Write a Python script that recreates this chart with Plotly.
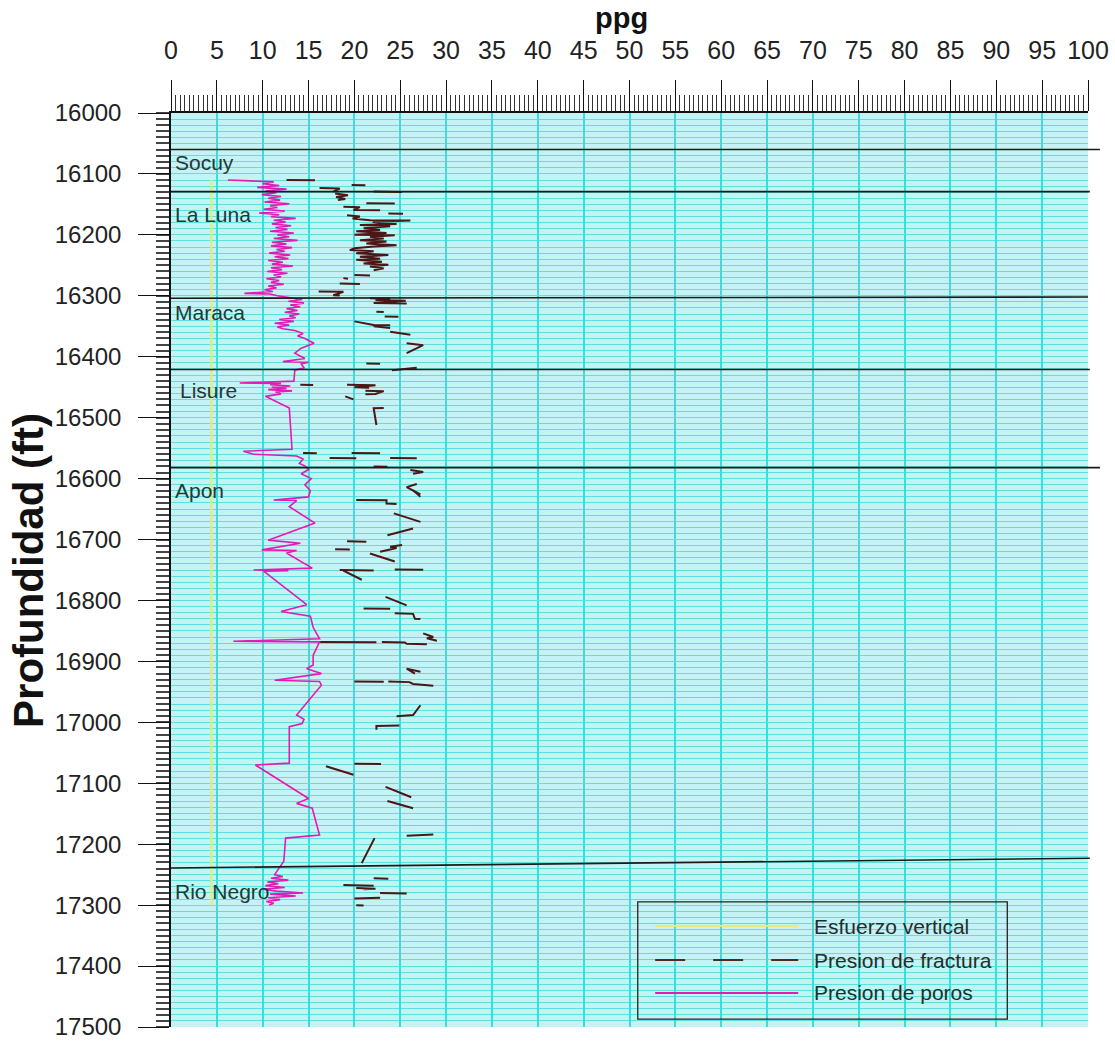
import plotly.graph_objects as go

# ---------------- data ----------------
# Esfuerzo vertical (ppg vs depth ft)
vert_depth = [16110, 17300]
vert_ppg = [4.4, 4.4]

# Presion de poros
pore_depth = [
    16110, 16111, 16113, 16116, 16119, 16122, 16125, 16128, 16131, 16134, 16137, 16140,
    16143, 16146, 16149, 16152, 16155, 16158, 16161, 16164, 16167, 16170, 16173, 16176,
    16179, 16182, 16185, 16188, 16191, 16194, 16197, 16200, 16203, 16206, 16209, 16212,
    16215, 16218, 16221, 16224, 16227, 16230, 16233, 16236, 16239, 16242, 16245, 16248,
    16251, 16254, 16257, 16260, 16263, 16266, 16269, 16272, 16275, 16278, 16281, 16284,
    16287, 16290, 16293, 16296, 16297, 16300,
    16303, 16306, 16309, 16312, 16315, 16318, 16321, 16324, 16327, 16330, 16333, 16336,
    16339, 16342, 16345, 16348, 16351, 16354, 16357, 16362, 16366, 16370, 16378, 16386,
    16394, 16403, 16408, 16409, 16412, 16418, 16422, 16440,
    16443, 16444, 16446, 16448, 16450, 16452, 16454, 16456, 16458, 16461, 16465, 16484,
    16552, 16555, 16560, 16563, 16568, 16575, 16579,
    16585, 16592, 16600, 16610, 16620, 16630, 16635, 16636, 16646, 16673, 16701, 16706,
    16717, 16718, 16722, 16747, 16750, 16751, 16752, 16807, 16818, 16826, 16844, 16863,
    16867, 16868, 16890, 16906, 16912, 16920, 16931, 16933, 16939, 16988, 16995, 17002,
    17007, 17067, 17070, 17125, 17133, 17141, 17185, 17190, 17228, 17250,
    17253, 17256, 17259, 17262, 17265, 17268, 17271, 17274, 17277, 17280, 17282, 17285,
    17288, 17291, 17294, 17297, 17300,
]
pore_ppg = [
    6.2, 9.0, 11.2, 10.0, 11.8, 9.4, 12.6, 10.3, 11.5, 9.9, 12.0, 10.6,
    11.9, 10.2, 12.9, 10.8, 11.6, 10.1, 12.4, 9.6, 11.8, 10.9, 13.6, 11.2,
    12.5, 11.0, 13.1, 11.4, 12.7, 10.8, 13.4, 11.6, 12.9, 11.2, 13.8, 11.0,
    12.6, 10.9, 13.2, 11.5, 12.4, 10.7, 13.0, 11.3, 12.8, 10.6, 12.2, 11.0,
    13.3, 10.9, 12.1, 10.5, 12.7, 11.2, 12.0, 10.4, 11.8, 10.9, 12.3, 10.6,
    11.5, 10.2, 11.1, 8.0, 10.8, 11.6,
    13.2, 14.3, 12.8, 14.5, 13.0, 14.1, 12.6, 13.8, 12.4, 14.0, 12.9, 13.6,
    11.8, 13.4, 11.3, 12.9, 11.6, 12.2, 13.5, 14.4, 13.8, 14.6, 15.6, 14.2,
    13.5, 14.6, 12.2, 15.0, 14.2, 14.5, 13.5, 13.4,
    7.5, 12.0, 10.8, 13.0, 11.0, 12.6, 10.6, 13.2, 11.4, 12.0, 10.3, 12.9,
    13.2, 7.9, 9.0, 13.7, 14.4, 14.0, 14.6,
    15.0, 14.2, 15.3, 14.6, 15.2, 15.0, 11.2, 13.7, 12.9, 15.7, 10.6, 14.1,
    9.9, 13.7, 12.6, 15.4, 9.0, 12.8, 10.1, 14.8, 12.0, 15.2, 15.5, 16.2,
    6.8, 16.2, 15.5, 15.5, 14.8, 16.4, 11.3, 16.2, 16.4, 13.7, 14.5, 14.3,
    12.9, 12.9, 9.2, 15.0, 13.7, 15.4, 16.2, 12.5, 12.3, 11.3,
    12.2, 10.9, 12.8, 10.5, 11.7, 10.3, 12.4, 10.0, 11.5, 14.4, 10.8, 13.6,
    10.6, 11.9, 10.4, 11.2, 10.7,
]

# Presion de fractura (broken trace, None = gap)
frac_depth = [
    16110, 16110.5, None, 16118, 16118.5, None, 16123, 16124, 16129, None, 16129, 16129.5, None,
    16132, 16135, 16138, 16141, 16143, None, 16148, 16148.5, None,
    16154, 16154.5, 16159, 16159.5, None, 16165, 16165.5, None,
    16168, 16170, 16173, 16176, 16176.5, 16179, 16182, 16184, 16186, 16189, 16192, 16194,
    16197, 16200, 16200.5, 16203, 16206, 16209, 16211, 16214, 16217, 16219, 16222, 16225,
    16227, 16230, 16233, 16236, 16239, 16241, 16244, 16247, 16249, 16252, 16255, 16258, None,
    16266, 16266.5, None, 16271, 16272, None, 16280, 16280.5, None,
    16293, 16293.5, 16299, 16299.5, None,
    16304, 16305, 16307, 16308, 16312, 16312.5, None, 16326, 16326.5, None, 16334, 16334.5, None,
    16342, 16348, 16348.5, None, 16350, 16353, None, 16359, 16364, None,
    16378, 16381, 16394, None, 16411, 16411.5, None, 16422, 16418, None,
    16446, 16446.5, None, 16446, 16447, 16450, 16451, None,
    16456, 16456.5, 16461, 16461.5, None, 16465, 16470, None,
    16484, 16484.5, 16512, None, 16558, 16558.5, None, 16558, 16558.5, None,
    16566, 16566.5, None, 16566, 16566.5, None, 16580, 16580.5, None,
    16586, 16589, 16592, None, 16609, 16614, 16626, None,
    16619, 16630, None, 16635, 16635.5, 16641, 16641.5, None, 16657, 16671, None,
    16693, 16682, None, 16703, 16703.5, None, 16716, 16716.5, None,
    16709, 16712, 16714, 16720, None, 16723, 16736, None, 16749, 16749.5, None,
    16750, 16751, None, 16751, 16766, None, 16794, 16808, None, 16813, 16813.5, None,
    16821, 16822, 16830, 16830.5, None, 16854, 16860, 16862, 16866, None,
    16868, 16868.5, None, 16868, 16869, 16871, 16872, None,
    16917, 16912, 16920, None, 16933, 16933.5, None, 16933, 16934, 16937, 16940, None,
    16972, 16988, 16990, None, 17005, 17006, 17012, None, 17068, 17068.5, None,
    17072, 17086, None, 17106, 17123, None, 17129, 17141, None, 17186, 17184, None,
    17190, 17231, None, 17256, 17256.5, None, 17267, 17268, None,
    17272, 17273, 17274, None, 17280, 17281, None, 17289, 17288, None, 17300, 17300.5,
]
frac_ppg = [
    12.6, 15.7, None, 19.7, 21.2, None, 16.2, 18.4, 17.7, None, 22.1, 25.2, None,
    17.9, 19.3, 18.0, 19.0, 18.2, None, 21.3, 24.4, None,
    18.8, 20.6, 19.9, 22.8, None, 23.7, 25.3, None,
    19.2, 20.6, 19.8, 21.7, 26.1, 22.0, 24.6, 20.6, 23.9, 21.0, 22.8, 20.2,
    23.5, 20.0, 24.4, 21.7, 23.2, 20.6, 23.5, 21.3, 24.6, 22.1, 20.0, 19.5,
    22.1, 20.2, 23.7, 20.6, 22.8, 20.2, 23.0, 21.0, 23.7, 21.7, 23.2, 22.1, None,
    20.0, 21.7, None, 18.8, 19.3, None, 18.4, 20.6, None,
    16.1, 18.8, 17.7, 18.4, None,
    21.7, 23.9, 22.3, 25.6, 22.1, 25.7, None, 22.4, 23.2, None, 23.3, 24.8, None,
    20.0, 22.1, 23.9, None, 22.1, 23.9, None, 23.9, 26.1, None,
    25.7, 27.5, 25.7, None, 21.3, 22.8, None, 24.1, 26.8, None,
    14.1, 15.5, None, 19.2, 22.3, 20.0, 21.6, None,
    21.2, 23.2, 22.3, 21.2, None, 19.0, 19.9, None,
    23.2, 22.1, 22.4, None, 14.4, 15.9, None, 19.7, 22.8, None,
    17.3, 20.2, None, 23.9, 26.8, None, 22.1, 23.6, None,
    26.1, 27.5, 26.4, None, 26.8, 25.7, 27.2, None,
    26.4, 27.2, None, 20.2, 23.5, 23.5, 24.6, None, 24.3, 27.2, None,
    23.6, 26.4, None, 19.2, 21.3, None, 17.9, 19.5, None,
    25.2, 23.9, 24.6, 22.8, None, 21.7, 24.4, None, 24.4, 27.5, None,
    18.4, 22.1, None, 18.8, 20.8, None, 23.4, 25.7, None, 21.0, 23.9, None,
    24.4, 26.4, 26.6, 27.2, None, 27.5, 28.6, 27.9, 29.0, None,
    16.2, 22.4, None, 23.0, 25.5, 25.7, 27.9, None,
    27.2, 25.7, 26.6, None, 20.0, 23.2, None, 23.7, 26.0, 26.4, 28.6, None,
    27.2, 26.4, 24.6, None, 24.9, 22.4, 22.4, None, 20.0, 22.9, None,
    16.9, 19.9, None, 23.4, 26.2, None, 23.6, 26.4, None, 25.7, 28.6, None,
    22.2, 20.8, None, 22.1, 23.7, None, 18.8, 22.1, None,
    20.2, 22.3, 21.0, None, 22.8, 25.7, None, 20.0, 22.8, None, 20.2, 21.0,
]

# Formation tops (depth at left edge / right edge of the plot)
formation_names = ["Socuy", "La Luna", "Maraca", "Lisure", "Apon", "Rio Negro"]
formation_label_depth = [16081, 16166, 16327, 16455, 16619, 17278]
formation_label_ppg = [0.2, 0.2, 0.2, 0.8, 0.2, 0.2]
boundary_depth_left = [16060, 16129, 16304, 16421, 16582, 17239]
boundary_depth_right = [16060, 16129, 16302, 16421, 16582, 17223]
boundary_extent = [1.013, 1.002, 1.0, 1.002, 1.013, 1.002]

x_ticks = list(range(0, 101, 5))
y_ticks = list(range(16000, 17501, 100))

x_title = "ppg"
y_title = "Profundidad (ft)"

FONT = "Liberation Sans, Arial, sans-serif"

fig = go.Figure()
fig.add_trace(go.Scatter(x=vert_ppg, y=vert_depth, mode="lines", name="Esfuerzo vertical",
                         line=dict(color="#e2ef72", width=2), showlegend=False))
fig.add_trace(go.Scatter(x=frac_ppg, y=frac_depth, mode="lines", name="Presion de fractura",
                         line=dict(color="#4a1616", width=2), connectgaps=False, showlegend=False))
fig.add_trace(go.Scatter(x=pore_ppg, y=pore_depth, mode="lines", name="Presion de poros",
                         line=dict(color="#e01cb4", width=1.6), showlegend=False))

# formation boundaries
for yl, yr, ext in zip(boundary_depth_left, boundary_depth_right, boundary_extent):
    fig.add_shape(type="line", xref="paper", yref="y", x0=0, x1=ext, y0=yl, y1=yr,
                  line=dict(color="#1a1a1a", width=1.6), layer="above")

for name, d, p in zip(formation_names, formation_label_depth, formation_label_ppg):
    fig.add_annotation(x=p, y=d, xref="x", yref="y", text=name, showarrow=False,
                       xanchor="left", yanchor="middle",
                       font=dict(family=FONT, size=21, color="#1d3a3a"))

# legend box (drawn in paper coords)
fig.add_shape(type="rect", xref="paper", yref="paper", x0=0.509, x1=0.912, y0=0.0087, y1=0.137,
              line=dict(color="#222", width=1.3), fillcolor="rgba(0,0,0,0)", layer="above")
legend_items = [
    ("Esfuerzo vertical", "#e2ef72", "solid", 0.1105),
    ("Presion de fractura", "#4a2a2a", "30px,28px", 0.0733),
    ("Presion de poros", "#e01cb4", "solid", 0.0372),
]
for text, col, dash, yy in legend_items:
    fig.add_shape(type="line", xref="paper", yref="paper", x0=0.528, x1=0.684, y0=yy, y1=yy,
                  line=dict(color=col, width=2, dash=dash), layer="above")
    fig.add_annotation(x=0.699, y=yy, xref="paper", yref="paper", text=text, showarrow=False,
                       xanchor="left", yanchor="middle",
                       font=dict(family=FONT, size=21, color="#1f2f2f"))

# axis titles
fig.add_annotation(x=0.4918, y=1.1039, xref="paper", yref="paper", text="<b>" + x_title + "</b>",
                   showarrow=False, xanchor="center", yanchor="middle",
                   font=dict(family=FONT, size=29, color="#111"))
fig.add_annotation(x=-0.156, y=0.5, xref="paper", yref="paper", text="<b>" + y_title + "</b>",
                   showarrow=False, xanchor="center", yanchor="middle", textangle=-90,
                   font=dict(family=FONT, size=42, color="#111"))

fig.update_layout(
    width=1115, height=1041,
    margin=dict(l=171, r=27, t=113, b=14),
    paper_bgcolor="white",
    plot_bgcolor="#c4f3f3",
    font=dict(family=FONT, color="#222"),
    showlegend=False,
)
fig.update_xaxes(
    side="top", range=[0, 100], tickmode="array", tickvals=x_ticks, automargin=False,
    ticks="outside", ticklen=31, tickwidth=1.4, tickcolor="#111",
    showline=True, linecolor="#111", linewidth=1.5, mirror=False,
    showgrid=True, gridcolor="#3cdcdc", gridwidth=1.6, zeroline=False,
    tickfont=dict(family=FONT, size=25, color="#222"), ticklabelstandoff=11,
    minor=dict(dtick=0.5, ticks="outside", ticklen=16, tickwidth=1, tickcolor="#333", showgrid=False),
)
fig.update_yaxes(
    range=[17500, 16000], tickmode="array", tickvals=y_ticks, tickformat="d", automargin=False,
    ticks="outside", ticklen=31, tickwidth=1.4, tickcolor="#111",
    showline=True, linecolor="#111", linewidth=1.5, mirror=False,
    showgrid=True, gridcolor="#5fe0e0", gridwidth=1.2, zeroline=False,
    tickfont=dict(family=FONT, size=24, color="#222"), ticklabelstandoff=12,
    minor=dict(dtick=10, ticks="outside", ticklen=13, tickwidth=1.6, tickcolor="#444",
               showgrid=True, gridcolor="#5fe0e0", gridwidth=1.2),
)

# remove the browser's default 8px body margin so the figure fills the window exactly
fig.write_html("out.html", config={"displayModeBar": False},
               post_script="document.body.style.margin='0px';")
